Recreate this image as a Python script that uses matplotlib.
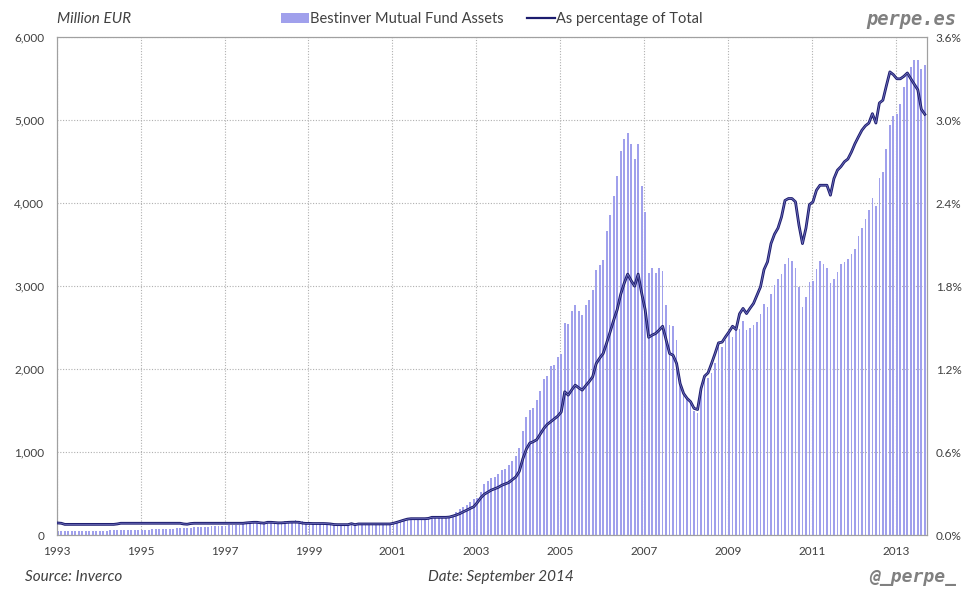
import numpy as np
import matplotlib
matplotlib.use("Agg")
import matplotlib.pyplot as plt
from matplotlib.patches import Patch
from matplotlib.lines import Line2D
from matplotlib.ticker import FuncFormatter

plt.rcParams['font.family'] = ['Lato', 'DejaVu Sans']

# Bestinver mutual fund assets (million EUR), one value per month, grouped by year label
assets_1993 = [45, 45, 46, 47, 48, 48, 49, 50, 50, 51, 52, 52]
assets_1994 = [52, 53, 54, 55, 55, 56, 58, 58, 60, 60, 62, 62]
assets_1995 = [64, 65, 66, 68, 70, 70, 72, 74, 76, 78, 80, 82]
assets_1996 = [85, 88, 90, 92, 95, 98, 100, 102, 105, 105, 108, 110]
assets_1997 = [112, 115, 118, 120, 125, 128, 135, 140, 145, 148, 150, 150]
assets_1998 = [152, 155, 160, 160, 158, 165, 172, 175, 178, 175, 168, 160]
assets_1999 = [155, 150, 148, 148, 145, 140, 138, 135, 130, 128, 126, 130]
assets_2000 = [132, 128, 130, 132, 135, 135, 138, 136, 134, 134, 135, 138]
assets_2001 = [140, 150, 165, 180, 192, 197, 198, 198, 197, 196, 198, 205]
assets_2002 = [206, 207, 208, 207, 210, 240, 275, 310, 340, 360, 400, 430]
assets_2003 = [445, 514, 610, 650, 683, 695, 731, 783, 795, 839, 892, 952]
assets_2004 = [1048, 1253, 1426, 1506, 1530, 1627, 1739, 1880, 1916, 2036, 2048, 2150]
assets_2005 = [2185, 2558, 2542, 2700, 2771, 2703, 2651, 2771, 2839, 2952, 3193, 3253]
assets_2006 = [3321, 3663, 3855, 4084, 4325, 4627, 4771, 4847, 4711, 4538, 4711, 4205]
assets_2007 = [3892, 3153, 3225, 3161, 3225, 3181, 2771, 2530, 2518, 2349, 1827, 1707]
assets_2008 = [1667, 1606, 1498, 1474, 1787, 1867, 1888, 1948, 2068, 2269, 2269, 2349]
assets_2009 = [2430, 2382, 2470, 2480, 2582, 2470, 2500, 2534, 2566, 2663, 2791, 2743]
assets_2010 = [2904, 3012, 3092, 3145, 3273, 3337, 3305, 3217, 2992, 2743, 2871, 3052]
assets_2011 = [3064, 3209, 3305, 3273, 3225, 3040, 3092, 3173, 3265, 3289, 3333, 3386]
assets_2012 = [3450, 3602, 3707, 3811, 3924, 4060, 3964, 4301, 4373, 4655, 4944, 5056]
assets_2013 = [5072, 5193, 5402, 5530, 5643, 5723, 5723, 5622, 5667]

# share of total Spanish mutual fund assets (%)
share_1993 = [0.087, 0.085, 0.077, 0.077, 0.077, 0.077, 0.077, 0.077, 0.077, 0.077, 0.077, 0.077]
share_1994 = [0.077, 0.077, 0.077, 0.077, 0.077, 0.080, 0.085, 0.085, 0.085, 0.085, 0.085, 0.085]
share_1995 = [0.085, 0.085, 0.085, 0.085, 0.085, 0.085, 0.085, 0.085, 0.085, 0.085, 0.085, 0.085]
share_1996 = [0.080, 0.078, 0.083, 0.085, 0.085, 0.085, 0.085, 0.085, 0.085, 0.085, 0.085, 0.085]
share_1997 = [0.085, 0.085, 0.085, 0.085, 0.085, 0.085, 0.088, 0.090, 0.092, 0.092, 0.088, 0.086]
share_1998 = [0.092, 0.092, 0.090, 0.088, 0.088, 0.090, 0.092, 0.093, 0.093, 0.092, 0.086, 0.084]
share_1999 = [0.084, 0.083, 0.083, 0.083, 0.083, 0.082, 0.080, 0.076, 0.075, 0.075, 0.075, 0.075]
share_2000 = [0.082, 0.075, 0.080, 0.080, 0.080, 0.080, 0.080, 0.080, 0.080, 0.080, 0.080, 0.080]
share_2001 = [0.085, 0.092, 0.100, 0.108, 0.115, 0.118, 0.118, 0.118, 0.118, 0.118, 0.120, 0.128]
share_2002 = [0.128, 0.128, 0.128, 0.128, 0.130, 0.137, 0.145, 0.155, 0.168, 0.180, 0.193, 0.205]
share_2003 = [0.235, 0.270, 0.295, 0.310, 0.325, 0.335, 0.345, 0.360, 0.370, 0.380, 0.400, 0.420]
share_2004 = [0.46, 0.55, 0.62, 0.665, 0.675, 0.69, 0.73, 0.77, 0.80, 0.82, 0.84, 0.86]
share_2005 = [0.89, 1.036, 1.012, 1.05, 1.084, 1.065, 1.048, 1.08, 1.11, 1.145, 1.24, 1.28]
share_2006 = [1.313, 1.39, 1.47, 1.554, 1.63, 1.74, 1.82, 1.887, 1.84, 1.80, 1.887, 1.75]
share_2007 = [1.63, 1.43, 1.446, 1.458, 1.482, 1.51, 1.41, 1.313, 1.30, 1.241, 1.096, 1.024]
share_2008 = [0.988, 0.964, 0.916, 0.908, 1.06, 1.149, 1.173, 1.241, 1.313, 1.39, 1.395, 1.434]
share_2009 = [1.47, 1.51, 1.487, 1.60, 1.639, 1.602, 1.64, 1.675, 1.735, 1.795, 1.92, 1.976]
share_2010 = [2.108, 2.176, 2.22, 2.30, 2.42, 2.434, 2.434, 2.41, 2.241, 2.108, 2.22, 2.39]
share_2011 = [2.41, 2.494, 2.53, 2.53, 2.53, 2.458, 2.578, 2.639, 2.665, 2.70, 2.72, 2.77]
share_2012 = [2.83, 2.88, 2.928, 2.96, 2.98, 3.048, 2.98, 3.125, 3.145, 3.25, 3.35, 3.33]
share_2013 = [3.30, 3.30, 3.318, 3.342, 3.30, 3.26, 3.22, 3.08, 3.043]

year_labels = ['1993', '1995', '1997', '1999', '2001', '2003', '2005',
               '2007', '2009', '2011', '2013']

assets = (assets_1993 + assets_1994 + assets_1995 + assets_1996 + assets_1997
          + assets_1998 + assets_1999 + assets_2000 + assets_2001 + assets_2002
          + assets_2003 + assets_2004 + assets_2005 + assets_2006 + assets_2007
          + assets_2008 + assets_2009 + assets_2010 + assets_2011 + assets_2012
          + assets_2013)
share = (share_1993 + share_1994 + share_1995 + share_1996 + share_1997
         + share_1998 + share_1999 + share_2000 + share_2001 + share_2002
         + share_2003 + share_2004 + share_2005 + share_2006 + share_2007
         + share_2008 + share_2009 + share_2010 + share_2011 + share_2012
         + share_2013)

n = len(assets)
x = np.arange(n) + 0.3

bar_color = '#a0a0ec'
line_dark = '#1c1c6e'
line_light = '#7070bc'
txt = '#404040'

fig = plt.figure(figsize=(9.8, 6), dpi=100)
ax = fig.add_axes([0.0579, 0.1083, 0.8883, 0.8295])
ax.bar(x, assets, width=0.5, color=bar_color, linewidth=0, zorder=2)
ax.set_xlim(0, n)
ax.set_ylim(0, 6000)
ax.set_yticks(np.arange(0, 6001, 1000))
ax.yaxis.set_major_formatter(FuncFormatter(lambda v, p: f'{int(v):,}'))
ax.set_xticks(np.arange(0, n, 24))
ax.set_xticklabels(year_labels)
ax.grid(True, color='#b0b0b0', linestyle=(0, (1, 1.5)), linewidth=0.8, zorder=0)
ax.set_axisbelow(True)
ax.tick_params(length=0, labelsize=8.5, colors=txt, pad=8)
ax.tick_params(axis='y', pad=9)
for s in ax.spines.values():
    s.set_color('#a0a0a0')

ax2 = ax.twinx()
ax2.plot(x, share, color=line_dark, linewidth=2.0, solid_joinstyle='round', zorder=3)
ax2.plot(x, share, color=line_light, linewidth=0.6, zorder=4)
ax2.set_ylim(0, 3.6)
ax2.set_yticks(np.arange(0, 3.61, 0.6))
ax2.yaxis.set_major_formatter(FuncFormatter(lambda v, p: f'{v:.1f}%'))
ax2.tick_params(length=0, labelsize=8.5, colors=txt, pad=6)
for s in ax2.spines.values():
    s.set_color('#a0a0a0')

handles = [Patch(facecolor=bar_color, edgecolor='none'),
           Line2D([], [], color=line_dark, linewidth=1.6)]
fig.legend(handles, ['Bestinver Mutual Fund Assets', 'As percentage of Total'],
           loc='center', bbox_to_anchor=(0.502, 0.968), ncol=2, frameon=False,
           fontsize=10.5, handlelength=1.9, handletextpad=0.1, columnspacing=1.6,
           labelcolor=txt)

fig.text(0.058, 0.968, 'Million EUR', fontsize=11, style='italic', color=txt,
         va='center', ha='left')
fig.text(0.9755, 0.968, 'perpe.es', fontsize=13.5, style='italic', weight='bold',
         family='DejaVu Sans Mono', color='#808080', va='center', ha='right')
fig.text(0.026, 0.038, 'Source: Inverco', fontsize=11, style='italic', color=txt,
         va='center', ha='left')
fig.text(0.511, 0.038, 'Date: September 2014', fontsize=11, style='italic', color=txt,
         va='center', ha='center')
fig.text(0.9755, 0.038, '@_perpe_', fontsize=13, style='italic', weight='bold',
         family='DejaVu Sans Mono', color='#808080', va='center', ha='right')

fig.savefig('out.png', dpi=100)
